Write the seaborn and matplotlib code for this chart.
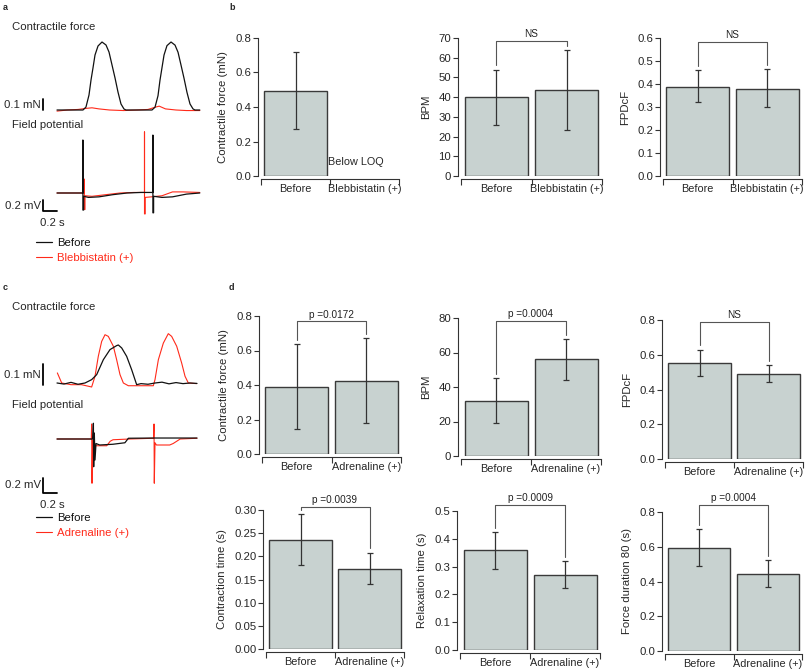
import numpy as np
import pandas as pd
import matplotlib
matplotlib.use('Agg')
import matplotlib.pyplot as plt
import seaborn as sns

W, H = 807, 669

# ---- bar chart data ----
groups_bleb = ['Before', 'Blebbistatin (+)']
groups_adr = ['Before', 'Adrenaline (+)']

force_b = [0.49]            # blebbistatin: below LOQ
force_b_lo = [0.27]
force_b_hi = [0.72]
bpm_b = [40.0, 43.5]
bpm_b_lo = [26.0, 23.5]
bpm_b_hi = [54.0, 64.0]
fpdcf_b = [0.385, 0.38]
fpdcf_b_lo = [0.32, 0.30]
fpdcf_b_hi = [0.46, 0.465]

force_d = [0.39, 0.425]
force_d_lo = [0.145, 0.18]
force_d_hi = [0.635, 0.67]
bpm_d = [32.0, 56.0]
bpm_d_lo = [19.0, 44.0]
bpm_d_hi = [45.0, 68.0]
fpdcf_d = [0.555, 0.49]
fpdcf_d_lo = [0.48, 0.445]
fpdcf_d_hi = [0.63, 0.54]
contr_d = [0.236, 0.173]
contr_d_lo = [0.182, 0.14]
contr_d_hi = [0.291, 0.208]
relax_d = [0.358, 0.27]
relax_d_lo = [0.293, 0.222]
relax_d_hi = [0.424, 0.32]
dur_d = [0.595, 0.445]
dur_d_lo = [0.49, 0.37]
dur_d_hi = [0.70, 0.523]

# ---- traces (time in s) ----
force_a_t = [0.000, 0.200, 0.371, 0.414, 0.457, 0.486, 0.514, 0.543, 0.586, 0.643, 0.700, 0.743, 0.786, 0.829,
             0.871, 0.914, 0.957, 0.986, 1.150, 1.357, 1.400, 1.443, 1.471, 1.500, 1.529, 1.571, 1.629, 1.686,
             1.729, 1.771, 1.814, 1.857, 1.900, 1.943, 1.971, 2.040]
force_a_before = [0.0, 0.0, 0.0, 0.027, 0.136, 0.273, 0.382, 0.50, 0.582, 0.618, 0.591, 0.527, 0.409, 0.291,
                  0.164, 0.055, 0.009, 0.0, 0.0, 0.0, 0.025, 0.13, 0.27, 0.385, 0.50, 0.585, 0.618, 0.59, 0.525,
                  0.41, 0.29, 0.16, 0.055, 0.01, 0.0, 0.0]
force_a_bleb_t = [0.00, 0.15, 0.30, 0.42, 0.50, 0.60, 0.75, 0.95, 1.15, 1.30, 1.40, 1.46, 1.55, 1.70, 1.85, 2.04]
force_a_bleb = [-0.01, 0.0, 0.005, 0.015, 0.02, 0.01, 0.0, -0.005, 0.0, 0.005, 0.025, 0.035, 0.01, 0.0, -0.005, -0.005]

fp_a_t = [0.00, 0.37, 0.37, 0.37, 0.38, 0.38, 0.45, 0.60, 0.80, 1.00, 1.20, 1.37, 1.37, 1.37, 1.38, 1.38, 1.50, 1.65, 1.85, 2.04]
fp_a_before = [0.00, 0.00, 0.96, -0.31, -0.31, -0.06, -0.08, -0.07, -0.03, 0.00, 0.01, 0.01, 1.05, -0.36, -0.36, -0.06,
               -0.08, -0.07, -0.02, 0.00]
fp_a_bleb_t = [0.00, 0.39, 0.39, 0.39, 0.40, 0.40, 0.50, 0.70, 0.90, 1.10, 1.25, 1.25, 1.25, 1.26, 1.26, 1.35, 1.50, 1.65,
               1.80, 2.04]
fp_a_bleb = [0.00, 0.00, 0.25, -0.30, -0.30, -0.05, -0.06, -0.03, 0.00, 0.01, 0.01, 1.11, -0.38, -0.38, -0.08, -0.07,
             -0.05, 0.02, 0.02, 0.01]

force_c_t = [0.00, 0.10, 0.20, 0.30, 0.40, 0.495, 0.567, 0.662, 0.757, 0.852, 0.876, 0.924, 0.995, 1.067, 1.114, 1.138,
             1.20, 1.30, 1.40, 1.50, 1.60, 1.70, 1.80, 1.90, 2.00]
force_c_before = [0.0, -0.005, 0.003, -0.006, 0.0, 0.016, 0.04, 0.111, 0.159, 0.178, 0.181, 0.167, 0.127, 0.063, 0.016,
                  -0.008, -0.003, -0.006, 0.0, 0.004, -0.004, 0.002, -0.003, 0.0, -0.002]
force_c_adr_t = [0.005, 0.067, 0.20, 0.35, 0.495, 0.543, 0.590, 0.638, 0.686, 0.733, 0.805, 0.852, 0.900, 0.948, 1.019,
                 1.20, 1.376, 1.400, 1.448, 1.519, 1.590, 1.638, 1.710, 1.781, 1.829, 1.876, 1.995]
force_c_adr = [0.048, 0.0, -0.008, -0.008, -0.019, 0.032, 0.127, 0.198, 0.23, 0.222, 0.175, 0.111, 0.04, 0.0, -0.013,
               -0.013, -0.013, 0.016, 0.111, 0.19, 0.235, 0.222, 0.175, 0.095, 0.032, 0.0, -0.003]

fp_c_t = [0.00, 0.51, 0.52, 0.524, 0.533, 0.543, 0.557, 0.61, 0.80, 0.97, 1.02, 1.40, 2.00]
fp_c_before = [0.00, 0.00, 0.21, -0.37, 0.08, -0.28, -0.06, -0.08, -0.07, -0.05, 0.01, 0.013, 0.013]
fp_c_adr_t = [0.00, 0.49, 0.495, 0.50, 0.51, 0.54, 0.71, 0.76, 0.80, 1.04, 1.38, 1.386, 1.39, 1.40, 1.42, 1.61, 1.66,
              1.76, 2.00]
fp_c_adr = [0.00, 0.00, 0.20, -0.59, -0.02, -0.09, -0.09, -0.03, -0.01, 0.00, 0.01, 0.20, -0.59, -0.05, -0.08, -0.08,
            -0.06, 0.00, 0.01]

sns.set_style('ticks')
plt.rcParams['font.family'] = ['Liberation Sans', 'DejaVu Sans']
FS = 8.2      # labels, trace text
FS_TICK = 8.2
FS_CAT = 7.8  # category names under the bars

BAR = '#c8d2d0'
EDGE = '#3a3a3a'
RED = '#ff2a1a'

fig = plt.figure(figsize=(W / 100, H / 100), dpi=100)


def rect(x0, y0, x1, y1):
    return [x0 / W, 1 - y1 / H, (x1 - x0) / W, (y1 - y0) / H]


def bar_panel(box, groups, means, lo, hi, ymax, step, fmt, ylabel, stat=None, stat_y=None):
    ax = fig.add_axes(rect(*box))
    df = pd.DataFrame({'cond': groups[:len(means)], 'value': means})
    sns.barplot(data=df, x='cond', y='value', order=groups, width=0.9, color=BAR, saturation=1,
                edgecolor=EDGE, linewidth=1.0, errorbar=None, ax=ax)
    m = np.array(means)
    x = np.arange(len(means))
    ax.errorbar(x, m, yerr=[m - np.array(lo), np.array(hi) - m], fmt='none', ecolor='#333333',
                elinewidth=0.9, capsize=2.2, capthick=0.9, zorder=3)
    ax.set_xlim(-0.5, 1.5)
    ax.set_ylim(0, ymax)
    ticks = np.arange(0, ymax + step / 2, step)
    ax.set_yticks(ticks)
    ax.set_yticklabels([fmt.format(t) for t in ticks])
    ax.set_xticks([-0.5, 0.5, 1.5])
    ax.set_xticklabels([])
    ax.set_xticks([0, 1], minor=True)
    ax.set_xticklabels(groups, minor=True)
    ax.tick_params(axis='x', which='major', length=4, width=0.8, color='#333333')
    ax.tick_params(axis='x', which='minor', length=0, pad=3.5, labelsize=FS_CAT)
    ax.tick_params(axis='y', length=3.5, width=0.8, color='#333333', pad=1.5, labelsize=FS_TICK)
    ax.set_xlabel('')
    ax.set_ylabel(ylabel, fontsize=FS, labelpad=5)
    sns.despine(ax=ax)
    ax.spines['left'].set_position(('outward', 2))
    ax.spines['bottom'].set_position(('outward', 2))
    for s in ['left', 'bottom']:
        ax.spines[s].set_linewidth(0.8)
        ax.spines[s].set_color('#333333')
    if stat is not None:
        gap = 0.03 * ymax
        ax.plot([0, 0, 1, 1], [hi[0] + gap, stat_y, stat_y, hi[1] + gap], color='#555555', lw=0.8,
                clip_on=False)
        ax.text(0.5, stat_y + 0.012 * ymax, stat, ha='center', va='bottom', fontsize=7.2, color='#222222')
    return ax


def trace_axes(box, t0_px, base_px, px_per_s, px_per_unit):
    x0, y0, x1, y1 = box
    ax = fig.add_axes(rect(*box))
    ax.set_xlim((x0 - t0_px) / px_per_s, (x1 - t0_px) / px_per_s)
    ax.set_ylim((base_px - y1) / px_per_unit, (base_px - y0) / px_per_unit)
    ax.axis('off')
    return ax


def trace_panel(top, label, force_box, force_base, force_scale, fp_box, fp_base, fp_scale,
                f_t, f_before, f_t2, f_drug, p_t, p_before, p_t2, p_drug,
                fbar, vbar, drug_label, leg_top):
    fig.text(3 / W, 1 - (top + 7) / H, label, fontsize=6.5, fontweight='bold', va='center')
    fig.text(12 / W, 1 - (top + 27) / H, 'Contractile force', fontsize=FS, va='center')
    axf = trace_axes(force_box, 57, force_base, 70, force_scale)
    axf.plot(f_t2, f_drug, color=RED, lw=0.8, clip_on=False)
    axf.plot(f_t, f_before, color='#111111', lw=0.9, clip_on=False)
    axf.plot([-0.2, -0.2], fbar, color='black', lw=1.3, clip_on=False)
    axf.text(-0.23, np.mean(fbar) - 0.5 / force_scale, '0.1 mN', ha='right', va='center', fontsize=FS)

    fig.text(12 / W, 1 - (top + 125) / H, 'Field potential', fontsize=FS, va='center')
    axp = trace_axes(fp_box, 57, fp_base, 70, fp_scale)
    l2, = axp.plot(p_t2, p_drug, color=RED, lw=0.8, clip_on=False)
    l1, = axp.plot(p_t, p_before, color='#111111', lw=0.9, clip_on=False)
    axp.plot([-0.2, -0.2, 0.0], [vbar[1], vbar[0], vbar[0]], color='black', lw=1.3, clip_on=False)
    axp.text(-0.23, np.mean(vbar), '0.2 mV', ha='right', va='center', fontsize=FS)
    axp.text(-0.07, vbar[0] - 12 / fp_scale, '0.2 s', ha='center', va='center', fontsize=FS)
    axp.legend([l1, l2], ['Before', drug_label], loc='upper left',
               bbox_to_anchor=(36 / W, 1 - leg_top / H), bbox_transform=fig.transFigure,
               frameon=False, fontsize=FS, handlelength=1.4, handletextpad=0.45,
               labelspacing=0.45, borderpad=0, borderaxespad=0, labelcolor='linecolor')


# panel a
trace_panel(0, 'a', (40, 35, 205, 115), 110, 110, (40, 128, 205, 222), 193, 55,
            force_a_t, force_a_before, force_a_bleb_t, force_a_bleb,
            fp_a_t, fp_a_before, fp_a_bleb_t, fp_a_bleb,
            [0.0, 0.1], [-0.33, -0.13], 'Blebbistatin (+)', 238)
# panel c
trace_panel(280, 'c', (40, 325, 205, 395), 383, 210, (40, 410, 205, 500), 439, 75,
            force_c_t, force_c_before, force_c_adr_t, force_c_adr,
            fp_c_t, fp_c_before, fp_c_adr_t, fp_c_adr,
            [-0.01, 0.09], [-0.72, -0.52], 'Adrenaline (+)', 513)

fig.text(229 / W, 1 - 7 / H, 'b', fontsize=6.5, fontweight='bold', va='center')
fig.text(229 / W, 1 - 287 / H, 'd', fontsize=6.5, fontweight='bold', va='center')

# panel b
ax = bar_panel((261, 38, 399, 176), groups_bleb, force_b, force_b_lo, force_b_hi, 0.8, 0.2, '{:.1f}',
               'Contractile force (mN)')
ax.text(0.87, 0.08, 'Below LOQ', ha='center', va='center', fontsize=FS_CAT)
bar_panel((461, 38, 602, 176), groups_bleb, bpm_b, bpm_b_lo, bpm_b_hi, 70, 10, '{:.0f}', 'BPM', 'NS', 68.6)
bar_panel((663, 38, 802, 176), groups_bleb, fpdcf_b, fpdcf_b_lo, fpdcf_b_hi, 0.6, 0.1, '{:.1f}', 'FPDcF',
          'NS', 0.583)

# panel d
bar_panel((262, 316, 401, 454), groups_adr, force_d, force_d_lo, force_d_hi, 0.8, 0.2, '{:.1f}',
          'Contractile force (mN)', 'p =0.0172', 0.77)
bar_panel((461, 318, 601, 456), groups_adr, bpm_d, bpm_d_lo, bpm_d_hi, 80, 20, '{:.0f}', 'BPM',
          'p =0.0004', 78.4)
bar_panel((665, 320, 803, 459), groups_adr, fpdcf_d, fpdcf_d_lo, fpdcf_d_hi, 0.8, 0.2, '{:.1f}', 'FPDcF',
          'NS', 0.79)
bar_panel((266, 510, 404, 649), groups_adr, contr_d, contr_d_lo, contr_d_hi, 0.30, 0.05, '{:.2f}',
          'Contraction time (s)', 'p =0.0039', 0.307)
bar_panel((460, 511, 600, 650), groups_adr, relax_d, relax_d_lo, relax_d_hi, 0.5, 0.1, '{:.1f}',
          'Relaxation time (s)', 'p =0.0009', 0.523)
bar_panel((665, 512, 802, 651), groups_adr, dur_d, dur_d_lo, dur_d_hi, 0.8, 0.2, '{:.1f}',
          'Force duration 80 (s)', 'p =0.0004', 0.84)

fig.savefig('out.png', dpi=100, facecolor='white')
